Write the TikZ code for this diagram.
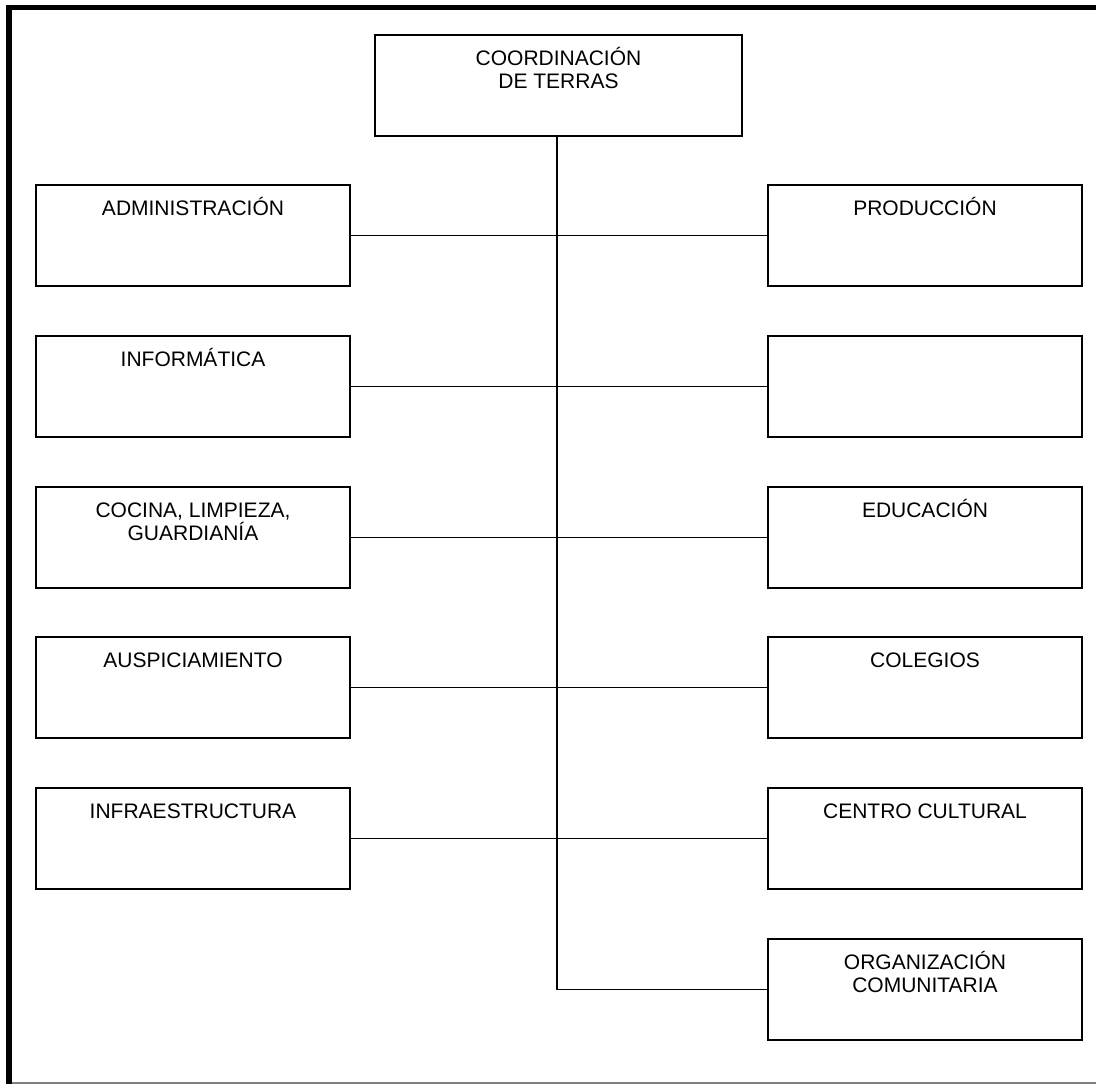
\documentclass[tikz,border=0pt]{standalone}
\usepackage{fontspec}
\setmainfont{Liberation Sans}
\usetikzlibrary{calc}
\begin{document}
\begin{tikzpicture}[x=1pt,y=-1pt,
  box/.style={draw=black, line width=2pt, minimum width=314pt, minimum height=101pt, inner sep=0pt, anchor=north west},
  lbl/.style={anchor=base, inner sep=0pt, align=center, font=\fontsize{21}{23.5}\selectfont},
  conn/.style={draw=black, line width=1.8pt}]
\useasboundingbox (0,0) rectangle (1096,1084);
% frame
\draw[line width=5pt, line cap=rect] (8.5,7.5) -- (1096,7.5);
\draw[line width=5.5pt] (9,7.5) -- (9,1084);
\draw[gray, line width=1.5pt] (11.5,1083) -- (1096,1083);
% top
\node[box, minimum width=367pt] (top) at (374,34) {};
\node[lbl] (toplbl) at ($(top.north)+(0,54.5)$) {COORDINACIÓN\\DE TERRAS};
% left column
\node[box] (l1) at (35,184) {};
\node[box] (l2) at (35,335) {};
\node[box] (l3) at (35,486) {};
\node[box] (l4) at (35,636) {};
\node[box] (l5) at (35,787) {};
% right column
\node[box] (r1) at (767,184) {};
\node[box] (r2) at (767,335) {};
\node[box] (r3) at (767,486) {};
\node[box] (r4) at (767,636) {};
\node[box] (r5) at (767,787) {};
\node[box] (r6) at (767,938) {};
% labels
\node[lbl] (l1t) at ($(l1.north)+(0,31)$) {ADMINISTRACIÓN};
\node[lbl] (l2t) at ($(l2.north)+(0,31)$) {INFORMÁTICA};
\node[lbl] (l3t) at ($(l3.north)+(0,54.5)$) {COCINA, LIMPIEZA,\\GUARDIANÍA};
\node[lbl] (l4t) at ($(l4.north)+(0,31)$) {AUSPICIAMIENTO};
\node[lbl] (l5t) at ($(l5.north)+(0,31)$) {INFRAESTRUCTURA};
\node[lbl] (r1t) at ($(r1.north)+(0,31)$) {PRODUCCIÓN};
\node[lbl] (r3t) at ($(r3.north)+(0,31)$) {EDUCACIÓN};
\node[lbl] (r4t) at ($(r4.north)+(0,31)$) {COLEGIOS};
\node[lbl] (r5t) at ($(r5.north)+(0,31)$) {CENTRO CULTURAL};
\node[lbl] (r6t) at ($(r6.north)+(0,54.5)$) {ORGANIZACIÓN\\COMUNITARIA};
% connectors
\coordinate (spine) at (557,0);
\draw[conn] (top.south -| spine) -- (r6.west -| spine) -- (r6.west);
\foreach \i in {1,...,5}{
  \draw[conn] (l\i.east) -- (r\i.west);
}
\end{tikzpicture}
\end{document}
